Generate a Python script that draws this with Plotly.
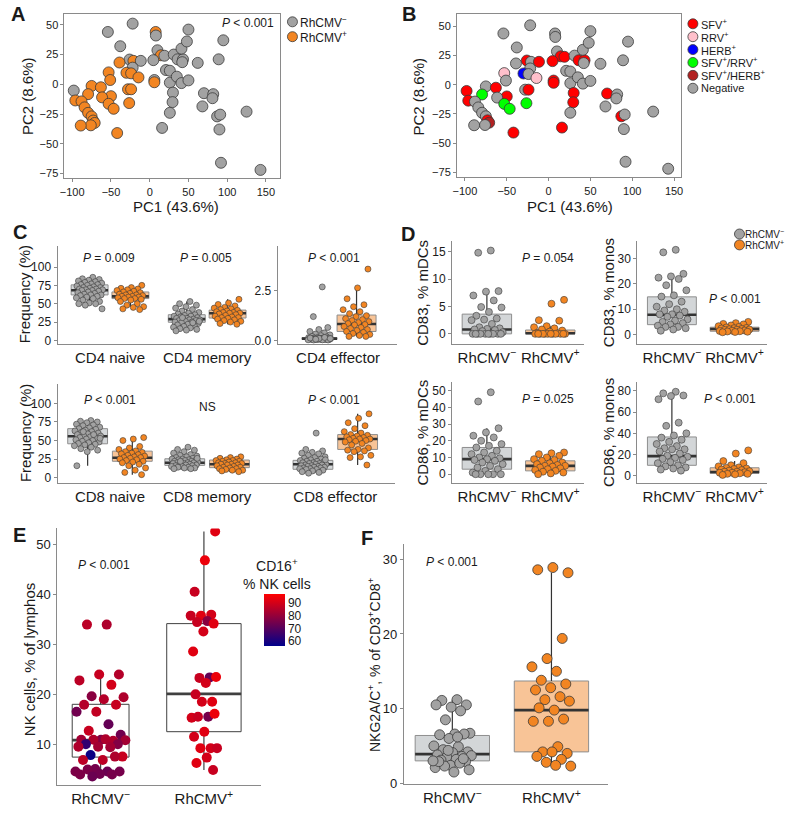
import plotly.graph_objects as go

W, H = 795, 826
def fx(px): return px / W
def fy(py): return 1 - py / H

FONT = "Liberation Sans, Arial, Helvetica, sans-serif"
NEG_LBL = "RhCMV<sup>\u2212</sup>"
POS_LBL = "RhCMV<sup>+</sup>"

# ---------------- DATA ----------------
# Panels A/B : PCA scores
pc1 = [-22, -54, 7.7, 8, -38, 10, 14.5, 19, 31, -26,
       -21, -11.5, -39, 4.7, -22, -53, -30, -24, -14.5, -51,
       6, 6, 21, 26, 26, 35, 41, 50, 36, 43,
       42, 41, 48, 50, 62, 89, 95, -98, -75, -63,
       -28, -24, -79.5, -50, -96, -88, -61.5, -53, -46.5, -26.5,
       -84, -79.5, -75, -73, -71, -76, -89, -42, 30, 29.5,
       26, 16, 70, 82, 81, 68, 87, 91, 90, 125,
       92, 143]
pc2 = [51, 44, 44, 41, 32, 28.6, 24.4, 24, 25, 20.8,
       19.7, 19.7, 18.3, 20.3, 14, 10, 9.7, 9.2, 5.8, 3.6,
       3.6, 1.7, 12, 11.4, 1.4, 6.4, 1, 3.3, 21, 21,
       18.6, 30, 36, 46, 18, 21, 37, -5.3, -1.4, -2.5,
       -4.2, -4.2, -8.3, -10, -13.6, -14.4, -11, -16.4, -20.6, -15.8,
       -19.4, -24, -27, -30.5, -32.5, -34.5, -34.7, -41, -7, -15,
       -24, -36.7, -7.5, -8.3, -11.7, -18.6, -27, -25.5, -38, -23,
       -66, -72]
cmv = ['neg', 'neg', 'pos', 'neg', 'neg', 'neg', 'pos', 'neg', 'neg', 'neg',
       'pos', 'neg', 'pos', 'neg', 'neg', 'pos', 'pos', 'pos', 'pos', 'pos',
       'neg', 'pos', 'neg', 'neg', 'neg', 'neg', 'neg', 'neg', 'neg', 'neg',
       'neg', 'neg', 'neg', 'neg', 'neg', 'neg', 'neg', 'neg', 'pos', 'pos',
       'pos', 'pos', 'pos', 'pos', 'pos', 'pos', 'pos', 'pos', 'pos', 'pos',
       'pos', 'pos', 'pos', 'pos', 'pos', 'pos', 'pos', 'pos', 'neg', 'neg',
       'neg', 'neg', 'neg', 'neg', 'neg', 'neg', 'neg', 'neg', 'neg', 'neg',
       'neg', 'neg']
virus = ['Neg', 'Neg', 'Neg', 'Neg', 'Neg', 'Neg', 'SFV', 'SFV', 'Neg', 'SFV',
         'Neg', 'SFV', 'Neg', 'SFV', 'Neg', 'RRV', 'HERB', 'Neg', 'RRV', 'Neg',
         'SFV', 'SFV', 'Neg', 'Neg', 'Neg', 'Neg', 'Neg', 'Neg', 'SFV', 'SFV',
         'Neg', 'Neg', 'Neg', 'Neg', 'Neg', 'Neg', 'Neg', 'SFV', 'Neg', 'SFV',
         'Neg', 'SFV', 'SFV/RRV', 'SFV', 'SFV', 'Neg', 'Neg', 'SFV/RRV', 'SFV/RRV', 'SFV/RRV',
         'Neg', 'Neg', 'Neg', 'SFV', 'SFV/HERB', 'Neg', 'Neg', 'SFV', 'SFV', 'SFV',
         'Neg', 'SFV', 'SFV', 'Neg', 'Neg', 'Neg', 'SFV', 'Neg', 'Neg', 'Neg',
         'Neg', 'Neg']
virus_levels = ['SFV', 'RRV', 'HERB', 'SFV/RRV', 'SFV/HERB', 'Neg']
virus_labels = ['SFV<sup>+</sup>', 'RRV<sup>+</sup>', 'HERB<sup>+</sup>',
                'SFV<sup>+</sup>/RRV<sup>+</sup>', 'SFV<sup>+</sup>/HERB<sup>+</sup>', 'Negative']

# Panel C : T-cell subsets (frequency %)
c_top_cats = ['CD4 naive', 'CD4 memory']
c_eff_cat = ['CD4 effector']
c_bot_cats = ['CD8 naive', 'CD8 memory', 'CD8 effector']
cd4_naive_neg = [86, 84, 83, 82, 81, 80, 79, 78, 77, 76, 76, 75, 74, 73, 72, 72, 71, 70, 70, 69, 69,
                 68, 68, 67, 66, 65, 64, 63, 62, 62, 61, 60, 59, 58, 57, 55, 53, 51, 50, 50, 48, 43]
cd4_naive_pos = [75, 72, 71, 70, 69, 68, 67, 66, 65, 64, 63, 62, 62, 61, 60, 60, 59, 59, 58, 57,
                 57, 56, 55, 53, 50, 48, 46, 45, 43, 42]
cd4_memory_neg = [53, 50, 48, 46, 44, 42, 40, 38, 37, 36, 35, 34, 33, 33, 32, 31, 30, 30, 29, 29, 28,
                  28, 27, 27, 26, 25, 25, 24, 23, 22, 21, 20, 19, 18, 17, 16, 15, 14, 13, 24, 31, 26]
cd4_memory_pos = [56, 51, 49, 47, 45, 44, 43, 42, 41, 40, 39, 38, 38, 37, 37, 36, 35, 34, 33, 32,
                  31, 31, 30, 29, 28, 27, 26, 25, 23, 22]
cd4_effector_neg = [2.7, 1.2, 0.65, 0.55, 0.45, 0.38, 0.32, 0.28, 0.24, 0.2, 0.18, 0.15, 0.14, 0.12,
                    0.12, 0.11, 0.1, 0.1, 0.1, 0.09, 0.09, 0.08, 0.08, 0.08, 0.07, 0.07, 0.06, 0.06,
                    0.05, 0.05, 0.05, 0.04, 0.04, 0.03, 0.03, 0.02, 0.02, 0.1, 0.12, 0.15, 0.06, 0.09]
cd4_effector_pos = [3.6, 2.65, 2.1, 1.8, 1.7, 1.55, 1.45, 1.35, 1.25, 1.2, 1.1, 1.05, 1.0, 0.95, 0.9,
                    0.85, 0.8, 0.78, 0.7, 0.65, 0.6, 0.55, 0.5, 0.45, 0.4, 0.35, 0.3, 0.25, 0.2, 0.2]
cd8_naive_neg = [77, 76, 75, 74, 72, 71, 70, 68, 67, 66, 65, 64, 63, 62, 61, 60, 59, 58, 57, 56, 56,
                 55, 54, 53, 52, 51, 50, 49, 48, 47, 46, 45, 44, 43, 41, 39, 37, 35, 16, 58, 62, 53]
cd8_naive_pos = [54, 52, 50, 42, 40, 38, 36, 35, 34, 33, 32, 31, 30, 29, 28, 27, 27, 26, 25, 24,
                 23, 22, 21, 20, 18, 16, 13, 10, 7, 4]
cd8_memory_neg = [41, 38, 37, 35, 33, 31, 30, 29, 28, 27, 26, 25, 25, 24, 24, 23, 23, 22, 22, 21, 21,
                  20, 20, 20, 19, 19, 18, 18, 17, 17, 16, 16, 15, 15, 14, 14, 13, 13, 12, 12, 22, 26]
cd8_memory_pos = [28, 27, 26, 25, 24, 23, 23, 22, 22, 21, 20, 20, 19, 19, 18, 18, 17, 17, 16, 15,
                  14, 14, 13, 12, 12, 11, 10, 10, 9, 8]
cd8_effector_neg = [60, 38, 36, 34, 33, 32, 30, 28, 27, 26, 25, 24, 23, 22, 22, 21, 20, 20, 19, 19, 18,
                    18, 17, 17, 16, 16, 15, 15, 14, 14, 13, 13, 12, 12, 11, 11, 10, 9, 8, 7, 6, 24]
cd8_effector_pos = [86, 80, 74, 70, 66, 62, 60, 58, 57, 56, 55, 54, 53, 52, 52, 51, 50, 49, 48, 46,
                    44, 40, 38, 37, 36, 35, 30, 28, 27, 17]
# box summaries: [lower whisker, q1, median, q3, upper whisker]
cd4_naive_neg_box = [50, 62, 68.4, 75.7, 86]
cd4_naive_pos_box = [46, 57, 60, 66, 75]
cd4_memory_neg_box = [13, 24.7, 29, 35, 53]
cd4_memory_pos_box = [22, 30.5, 37, 41.3, 56]
cd4_effector_neg_box = [0.02, 0.05, 0.09, 0.14, 0.28]
cd4_effector_pos_box = [0.2, 0.45, 0.83, 1.28, 2.65]
cd8_naive_neg_box = [16, 45.6, 55.7, 66, 77]
cd8_naive_pos_box = [4, 22, 26.7, 35.7, 54]
cd8_memory_neg_box = [12, 16.5, 20, 25.4, 38]
cd8_memory_pos_box = [8, 13.4, 18, 23.7, 28]
cd8_effector_neg_box = [6, 11.2, 18, 23.3, 38]
cd8_effector_pos_box = [17, 38, 52, 58, 86]

# Panel D : activation markers
d_cats = [NEG_LBL, POS_LBL]
cd83_mdc_neg = [15.2, 14.8, 7.8, 7.7, 7.0, 6.1, 4.9, 4.8, 4.0, 3.3, 2.8, 2.6, 2.5, 1.8, 1.2, 1.0,
                0.9, 0.8, 0.7, 0.5, 0.3, 0, 0, 0, 0, 0, 0, 0, 0, 0, 0]
cd83_mdc_pos = [6.2, 5.5, 2.5, 2.4, 1.4, 1.2, 1.0, 0.8, 0.6, 0.4, 0.2, 0.1, 0, 0, 0, 0, 0, 0, 0, 0,
                0, 0, 0, 0]
cd83_mono_neg = [33.5, 32.5, 24, 23, 22.5, 22, 19.5, 17.5, 15.5, 15, 13, 12, 11, 10, 9.5, 9, 8, 8,
                 7.5, 7, 6, 5.5, 5, 4.5, 4, 3.5, 3, 3, 2.5, 2, 1.5]
cd83_mono_pos = [5.0, 4.5, 4.2, 4.0, 3.6, 3.3, 3.0, 2.8, 2.6, 2.5, 2.4, 2.2, 2.1, 2.0, 1.9, 1.8, 1.6,
                 1.5, 1.4, 1.3, 1.2, 1.1, 1.0, 0.9]
cd86_mdc_neg = [49, 43.5, 27.5, 25, 23, 22, 20, 18, 17, 16, 14, 13, 12, 11, 10, 9.5, 9, 8.5, 8, 7,
                6, 5, 4, 3, 2, 1, 0, 0, 0, 0, 0]
cd86_mdc_pos = [13, 12.5, 12, 11, 10, 9, 8.5, 8, 7, 6.5, 6, 5.5, 5, 5, 4.5, 4, 3.5, 3, 2.5, 2, 1.5,
                1, 0.5, 0]
cd86_mono_neg = [79, 77.5, 75.5, 75, 72, 50, 47, 40, 38, 36, 34, 32, 30, 28, 26, 25, 25, 23, 21, 19,
                 18, 17, 16, 15, 13, 12, 10, 9, 8, 7, 6, 5]
cd86_mono_pos = [24, 21, 14, 12, 10, 9, 8, 7.5, 7, 6.5, 6, 5.5, 5, 4.5, 4, 4, 3.5, 3, 3, 2.5, 2, 2,
                 1.5, 1]
cd83_mdc_neg_box = [0, 0, 0.8, 3.6, 7.5]
cd83_mdc_pos_box = [0, 0, 0.1, 0.7, 1.4]
cd83_mono_neg_box = [1.5, 3.9, 7.8, 14.9, 24]
cd83_mono_pos_box = [0.9, 1.3, 2.2, 2.9, 5.0]
cd86_mdc_neg_box = [0, 3, 9, 16, 27.5]
cd86_mdc_pos_box = [0, 2, 5, 8, 13]
cd86_mono_neg_box = [5, 10, 18.6, 36.6, 73]
cd86_mono_pos_box = [1, 2.5, 3.7, 7.7, 14]

# Panel E : NK cells and CD16+ colour
nk_neg = [34, 34, 24, 24, 22.8, 21.9, 19.6, 19.4, 19, 17.9, 17.9, 16.5, 16.5, 14, 12.7, 11.9, 10.9,
          10.9, 10.7, 10.9, 10.8, 11, 10, 10, 9.5, 9.5, 9.4, 7.8, 7.5, 6.8, 6.8, 7.5, 5.0, 4.5, 4.5,
          4.9, 4.5, 4.0, 3.9, 3.9, 3.5]
cd16_neg = [84, 86, 85, 88, 86, 90, 78, 84, 85, 85, 88, 87, 74, 72, 88, 74, 77, 82, 84, 84, 82, 84,
            64, 77, 82, 84, 82, 58, 88, 86, 86, 84, 75, 76, 73, 76, 75, 74, 76, 75, 73]
nk_pos = [52.7, 46.9, 40.6, 36, 35.8, 35.8, 34.7, 34.5, 34.2, 32.6, 28.6, 23.4, 23.3, 23.5, 22.3, 20,
          18.5, 18.5, 15.3, 15.5, 15.5, 16.1, 12.5, 11.5, 9.2, 9.2, 9.2, 7.3, 6.2, 4.8]
cd16_pos = [92, 94, 88, 90, 92, 88, 78, 88, 92, 90, 92, 72, 88, 94, 90, 88, 92, 90, 90, 75, 88, 94,
            92, 90, 90, 92, 88, 90, 92, 88]
nk_neg_box = [3.5, 7.4, 10.8, 18.0, 24]
nk_pos_box = [4.8, 12.5, 20.1, 34.2, 52.7]

# Panel F : NKG2A/C+ CD8 T cells
nkg_neg = [11.2, 11.1, 10.5, 10.2, 10.5, 9.7, 8.5, 6.7, 6.6, 6.5, 6.6, 6.0, 5.0, 4.9, 4.5, 4.2, 4.1,
           3.8, 3.6, 3.5, 3.7, 3.2, 3.1, 2.9, 2.4, 2.1, 2.7, 2.3, 1.8, 1.5, 2.9, 3.3, 4.4, 3.0, 6.2]
nkg_pos = [28.2, 28.9, 28.6, 19.4, 16.7, 15.6, 15.0, 13.8, 13.3, 12.8, 12.5, 11.6, 11.2, 11.0, 9.8,
           10.1, 8.6, 8.3, 8.3, 4.9, 4.2, 4.0, 4.2, 3.6, 3.2, 2.8, 2.3, 2.4]
nkg_neg_box = [1.5, 3.0, 3.9, 6.4, 11.2]
nkg_pos_box = [2.3, 4.2, 9.8, 13.7, 28.2]

# ---------------- STYLE ----------------
GRAY_PT = '#A2A2A2'
ORANGE_PT = '#F28522'
PT_LINE = '#3A3A3A'
BOX_FILL = {'neg': '#D3D6D8', 'pos': '#F8C497'}
BOX_LINE = '#8E8E8E'
DARK = '#333333'
AXC = '#8A8A8A'
VIRUS_COL = {'SFV': '#FF0000', 'RRV': '#FFC0CB', 'HERB': '#0000FF',
             'SFV/RRV': '#00FF00', 'SFV/HERB': '#B22222', 'Neg': '#A2A2A2'}
PT_COL = {'neg': GRAY_PT, 'pos': ORANGE_PT}

fig = go.Figure()
layout = dict(width=W, height=H, margin=dict(l=0, r=0, t=0, b=0),
              paper_bgcolor='white', plot_bgcolor='rgba(0,0,0,0)', showlegend=False,
              font=dict(family=FONT, color='#1a1a1a'), boxmode='overlay')
annotations = []


def ann(text, px, py, size=12, xanchor='center', yanchor='middle', angle=0, bold=False, color='#1a1a1a'):
    if bold:
        text = '<b>' + text + '</b>'
    annotations.append(dict(text=text, x=fx(px), y=fy(py), xref='paper', yref='paper',
                            showarrow=False, xanchor=xanchor, yanchor=yanchor, textangle=angle,
                            borderpad=0, font=dict(size=size, color=color, family=FONT)))


def axes(i, x0, x1, top, bottom, xr, yr, xkw=None, ykw=None):
    xn = 'xaxis' if i == 1 else 'xaxis%d' % i
    yn = 'yaxis' if i == 1 else 'yaxis%d' % i
    xa = dict(domain=[fx(x0), fx(x1)], range=xr, anchor='y%d' % i if i > 1 else 'y',
              showgrid=False, zeroline=False, showline=True, linecolor=AXC, linewidth=1,
              ticks='', fixedrange=True)
    ya = dict(domain=[fy(bottom), fy(top)], range=yr, anchor='x%d' % i if i > 1 else 'x',
              showgrid=False, zeroline=False, showline=True, linecolor=AXC, linewidth=1,
              ticks='outside', ticklen=3, tickcolor=AXC, fixedrange=True)
    if xkw:
        xa.update(xkw)
    if ykw:
        ya.update(ykw)
    layout[xn] = xa
    layout[yn] = ya
    return ('x' if i == 1 else 'x%d' % i), ('y' if i == 1 else 'y%d' % i)


def jitter(n, spread, phase=0.0):
    return [spread * ((((k + 1) * 0.6180339887 + phase) % 1.0) * 2 - 1) for k in range(n)]


def group(xa, ya, pos, vals, box, key, width, spread, msize, mline=0.6, phase=0.0,
          fill=None, line=None, colors=None, coloraxis=None, dark=DARK):
    lo, q1, med, q3, hi = box
    fig.add_trace(go.Scatter(x=[pos, pos, None, pos, pos], y=[q3, hi, None, q1, lo], mode='lines',
                             line=dict(color=dark, width=1.2), xaxis=xa, yaxis=ya, hoverinfo='skip'))
    fig.add_trace(go.Box(x=[pos], q1=[q1], median=[med], q3=[q3], lowerfence=[q1], upperfence=[q3],
                         width=width, fillcolor=fill if fill else BOX_FILL[key],
                         line=dict(color=line if line else BOX_LINE, width=1), whiskerwidth=0,
                         boxpoints=False, xaxis=xa, yaxis=ya, hoverinfo='skip'))
    fig.add_trace(go.Scatter(x=[pos - width / 2, pos + width / 2], y=[med, med], mode='lines',
                             line=dict(color=dark, width=2.6), xaxis=xa, yaxis=ya, hoverinfo='skip'))
    xs = [pos + o for o in jitter(len(vals), spread, phase)]
    if colors is not None:
        marker = dict(size=msize, color=colors, coloraxis=coloraxis, line=dict(width=0))
    else:
        marker = dict(size=msize, color=PT_COL[key], line=dict(color=PT_LINE, width=mline))
    fig.add_trace(go.Scatter(x=xs, y=vals, mode='markers', marker=marker, xaxis=xa, yaxis=ya,
                             hoverinfo='skip'))


# ---------------- PANEL A ----------------
pca_ticks = [-100, -50, 0, 50, 100, 150]
pca_yticks = [-75, -50, -25, 0, 25, 50]
def lbl(v):
    return ('\u2212%d' % -v) if v < 0 else '%d' % v

frame_x = dict(mirror=True, ticks='outside', ticklen=3, tickcolor=AXC, tickvals=pca_ticks,
               ticktext=[lbl(v) for v in pca_ticks], tickfont=dict(size=11))
frame_y = dict(mirror=True, tickvals=pca_yticks, ticktext=[lbl(v) for v in pca_yticks],
               tickfont=dict(size=11))
xa, ya = axes(1, 60, 277, 14, 180, [-110, 167.6], [-79.2, 59.2], frame_x, frame_y)
fig.add_trace(go.Scatter(x=pc1, y=pc2, mode='markers', xaxis=xa, yaxis=ya, hoverinfo='skip',
                         marker=dict(size=11, color=[PT_COL[c] for c in cmv],
                                     line=dict(color=PT_LINE, width=0.8))))
ann('PC1 (43.6%)', 173, 208, 15)
ann('PC2 (8.6%)', 22, 97, 15, angle=-90)
ann('<i>P</i> < 0.001', 272, 23, 12, xanchor='right')
ann('A', 13, 14, 20, bold=True)

# ---------------- PANEL B ----------------
xb, yb = axes(2, 456, 682, 14, 179, [-109.5, 158.3], [-79.5, 60.8], frame_x, frame_y)
fig.add_trace(go.Scatter(x=pc1, y=pc2, mode='markers', xaxis=xb, yaxis=yb, hoverinfo='skip',
                         marker=dict(size=11, color=[VIRUS_COL[v] for v in virus],
                                     line=dict(color=PT_LINE, width=0.8))))
ann('PC1 (43.6%)', 570, 208, 15)
ann('PC2 (8.6%)', 417, 97, 15, angle=-90)
ann('B', 408, 14, 20, bold=True)

# legend swatch layer (pixel coordinate overlay)
layout['xaxis12'] = dict(domain=[0, 1], range=[0, W], visible=False, fixedrange=True, anchor='y12')
layout['yaxis12'] = dict(domain=[0, 1], range=[H, 0], visible=False, fixedrange=True, anchor='x12')
leg_x, leg_y, leg_c = [], [], []
for k, (key, lab) in enumerate(zip(['neg', 'pos'], [NEG_LBL, POS_LBL])):
    leg_x.append(290); leg_y.append(22 + 15 * k); leg_c.append(PT_COL[key])
    ann(lab, 297, 22 + 15 * k, 12, xanchor='left')
for k, (v, lab) in enumerate(zip(virus_levels, virus_labels)):
    leg_x.append(694); leg_y.append(24 + 13 * k); leg_c.append(VIRUS_COL[v])
    ann(lab, 701, 24 + 13 * k, 11, xanchor='left')

# ---------------- PANEL C ----------------
OFF, BW, SP = 0.21, 0.38, 0.14
c_y = dict(tickvals=[0, 25, 50, 75, 100], tickfont=dict(size=12))
xc, yc = axes(3, 53, 252, 248, 347, [-0.54, 1.49], [-5, 128.8],
              dict(tickvals=[0, 1], ticktext=c_top_cats, tickfont=dict(size=15)), c_y)
for p, (vn, vp, bn, bp) in enumerate([(cd4_naive_neg, cd4_naive_pos, cd4_naive_neg_box, cd4_naive_pos_box),
                                       (cd4_memory_neg, cd4_memory_pos, cd4_memory_neg_box, cd4_memory_pos_box)]):
    group(xc, yc, p - OFF, vn, bn, 'neg', BW, SP, 6)
    group(xc, yc, p + OFF, vp, bp, 'pos', BW, SP, 6, phase=0.3)
xe, ye = axes(4, 275, 395, 248, 347, [-0.62, 0.6], [-0.185, 4.77],
              dict(tickvals=[0], ticktext=c_eff_cat, tickfont=dict(size=15)),
              dict(tickvals=[0, 2.5], ticktext=['0.0', '2.5'], tickfont=dict(size=12)))
group(xe, ye, -0.19, cd4_effector_neg, cd4_effector_neg_box, 'neg', 0.36, 0.12, 6)
group(xe, ye, 0.19, cd4_effector_pos, cd4_effector_pos_box, 'pos', 0.40, 0.14, 6, phase=0.3)
ann('<i>P</i> = 0.009', 105, 260, 12)
ann('<i>P</i> = 0.005', 203, 260, 12)
ann('<i>P</i> < 0.001', 332, 260, 12)

xcb, ycb = axes(5, 53, 393, 387, 486.7, [-0.54, 2.93], [-6.7, 126.6],
                dict(tickvals=[0, 1, 2.32], ticktext=c_bot_cats, tickfont=dict(size=15)), c_y)
OFF2, BW2 = 0.23, 0.41
for p, (vn, vp, bn, bp) in zip([0, 1, 2.32],
                               [(cd8_naive_neg, cd8_naive_pos, cd8_naive_neg_box, cd8_naive_pos_box),
                                (cd8_memory_neg, cd8_memory_pos, cd8_memory_neg_box, cd8_memory_pos_box),
                                (cd8_effector_neg, cd8_effector_pos, cd8_effector_neg_box, cd8_effector_pos_box)]):
    group(xcb, ycb, p - OFF2, vn, bn, 'neg', BW2, SP, 6)
    group(xcb, ycb, p + OFF2, vp, bp, 'pos', BW2, SP, 6, phase=0.3)
ann('<i>P</i> < 0.001', 106, 403, 12)
ann('NS', 204, 410, 12)
ann('<i>P</i> < 0.001', 332, 403, 12)
ann('Frequency (%)', 20, 297, 15, angle=-90)
ann('Frequency (%)', 20, 437, 15, angle=-90)
ann('C', 15, 234, 20, bold=True)

# ---------------- PANEL D ----------------
d_x = dict(tickvals=[0, 1], ticktext=d_cats, tickfont=dict(size=15))
DW, DSP = 0.78, 0.26
panels_d = [
    (6, 451, 584, 243.3, 346.7, [-0.55, 1.53], [-1.81, 16.9], [0, 5, 10, 15],
     cd83_mdc_neg, cd83_mdc_pos, cd83_mdc_neg_box, cd83_mdc_pos_box),
    (7, 638, 769, 243.3, 346.7, [-0.55, 1.52], [-3.65, 36.9], [0, 10, 20, 30],
     cd83_mono_neg, cd83_mono_pos, cd83_mono_neg_box, cd83_mono_pos_box),
    (8, 451, 584, 385, 486.7, [-0.55, 1.53], [-5, 55.3], [0, 10, 20, 30, 40, 50],
     cd86_mdc_neg, cd86_mdc_pos, cd86_mdc_neg_box, cd86_mdc_pos_box),
    (9, 638, 769, 385, 486.7, [-0.55, 1.52], [-6.2, 88.4], [0, 20, 40, 60, 80],
     cd86_mono_neg, cd86_mono_pos, cd86_mono_neg_box, cd86_mono_pos_box),
]
for (i, x0, x1, t, b, xr, yr, tv, vn, vp, bn, bp) in panels_d:
    xd, yd = axes(i, x0, x1, t, b, xr, yr, d_x, dict(tickvals=tv, tickfont=dict(size=12)))
    group(xd, yd, 0, vn, bn, 'neg', DW, DSP, 7)
    group(xd, yd, 1, vp, bp, 'pos', DW, DSP, 7, phase=0.3)
ann('<i>P</i> = 0.054', 548, 260, 12)
ann('<i>P</i> < 0.001', 736, 302, 12)
ann('<i>P</i> = 0.025', 548, 402, 12)
ann('<i>P</i> < 0.001', 731, 402, 12)
ann('CD83, % mDCs', 421, 295, 15, angle=-90)
ann('CD83, % monos', 609, 295, 15, angle=-90)
ann('CD86, % mDCs', 421, 436, 15, angle=-90)
ann('CD86, % monos', 609, 436, 15, angle=-90)
ann('D', 407, 236, 20, bold=True)
for k, (key, lab) in enumerate(zip(['neg', 'pos'], [NEG_LBL, POS_LBL])):
    leg_x.append(741); leg_y.append(236 + 11 * k); leg_c.append(PT_COL[key])
    ann(lab, 746, 236 + 11 * k, 10, xanchor='left')
fig.add_trace(go.Scatter(x=leg_x, y=leg_y, mode='markers', xaxis='x12', yaxis='y12', hoverinfo='skip',
                         marker=dict(size=10, color=leg_c, line=dict(color=PT_LINE, width=0.8))))

# ---------------- PANEL E ----------------
layout['coloraxis'] = dict(cmin=56, cmax=97, colorscale=[[0, '#00008B'], [1, '#FF0000']],
                           colorbar=dict(x=fx(261), xanchor='left', y=fy(625.5), yanchor='middle',
                                         len=52, lenmode='pixels', thickness=21, thicknessmode='pixels',
                                         outlinewidth=0, tickvals=[60, 70, 80, 90], ticks='',
                                         tickfont=dict(size=12, family=FONT), xpad=0, ypad=0))
xE, yE = axes(10, 52.7, 258, 533, 791.7, [-0.42, 1.55], [1.8, 53.3],
              dict(tickvals=[0, 1], ticktext=[NEG_LBL, POS_LBL], tickfont=dict(size=15)),
              dict(tickvals=[10, 20, 30, 40, 50], tickfont=dict(size=13)))
group(xE, yE, 0, nk_neg, nk_neg_box, 'neg', 0.55, 0.25, 10, fill='rgba(0,0,0,0)', line='#404040',
      colors=cd16_neg, coloraxis='coloraxis', dark='#404040')
group(xE, yE, 1, nk_pos, nk_pos_box, 'pos', 0.72, 0.13, 10, phase=0.3, fill='rgba(0,0,0,0)',
      line='#404040', colors=cd16_pos, coloraxis='coloraxis', dark='#404040')
ann('<i>P</i> < 0.001', 100, 570, 12)
ann('CD16<sup>+</sup><br>% NK cells', 274, 579, 14)
ann('NK cells, % of lymphos', 25, 665, 15, angle=-90)
ann('E', 15, 540, 20, bold=True)

# ---------------- PANEL F ----------------
xF, yF = axes(11, 402.3, 608.3, 548.3, 790.7, [-0.49, 1.57], [-0.1, 32.1],
              dict(tickvals=[0, 1], ticktext=[NEG_LBL, POS_LBL], tickfont=dict(size=15)),
              dict(tickvals=[0, 10, 20, 30], tickfont=dict(size=13)))
group(xF, yF, 0, nkg_neg, nkg_neg_box, 'neg', 0.75, 0.2, 10, mline=0.8)
group(xF, yF, 1, nkg_pos, nkg_pos_box, 'pos', 0.75, 0.2, 10, mline=0.8, phase=0.3)
ann('<i>P</i> < 0.001', 451, 567, 12)
ann('NKG2A/C<sup>+</sup>, % of CD3<sup>+</sup>CD8<sup>+</sup>', 373, 670, 14, angle=-90)
ann('F', 365, 543, 20, bold=True)

layout['annotations'] = annotations
fig.update_layout(**layout)
fig.write_html('out.html', config={'displayModeBar': False, 'staticPlot': True},
               post_script="document.body.style.margin='0';"
                           "document.documentElement.style.overflow='hidden';")
